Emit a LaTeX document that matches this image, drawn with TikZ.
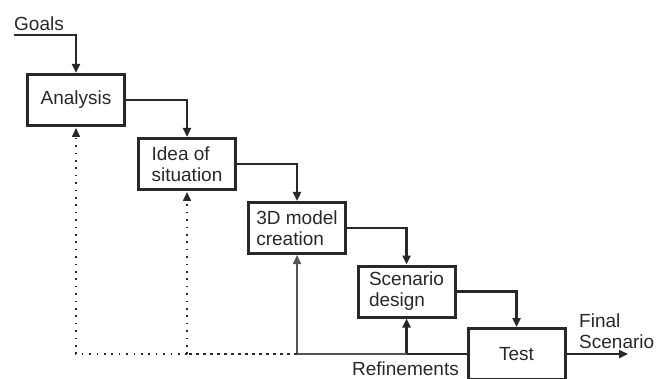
\documentclass[tikz,border=0pt]{standalone}
\usepackage{fontspec}
\setmainfont{Liberation Sans}
\usetikzlibrary{positioning}
\usetikzlibrary{calc}
\usetikzlibrary{arrows.meta}

\definecolor{inkgray}{RGB}{40,40,40}
\definecolor{thingray}{RGB}{85,85,85}

\tikzset{
  stage/.style={draw=inkgray,line width=3pt,minimum width=97pt,minimum height=51pt,
    align=left,inner sep=0pt,font=\fontsize{19}{21}\selectfont,text=inkgray},
  flow/.style={draw=inkgray,line width=2.6pt,-{Triangle[length=9pt,width=8pt]}},
  refine/.style={draw=thingray,line width=1.6pt,-{Triangle[length=9pt,width=8pt]}},
  loopback/.style={draw=inkgray,line width=1.6pt,dash pattern=on 1.6pt off 5.8pt,
    -{Triangle[length=9pt,width=8pt,sep=1pt]}},
  lbl/.style={font=\fontsize{19}{21}\selectfont,text=inkgray,inner sep=0pt,align=left}
}

\begin{document}
\begin{tikzpicture}[x=1pt,y=-1pt]
            \useasboundingbox (0,0) rectangle (668,379);
            \node[stage] (ana) at (76,100) {Analysis};
            \node[stage] (idea) at (187,164) {Idea of\\situation};
            \node[stage] (model) at (297,228) {3D model\\creation};
            \node[stage] (scen) at (406.5,291.5) {Scenario\\design};
            \node[stage] (test) at (516.5,354) {Test};
            \node[lbl,anchor=west] (goals) at (14,24) {Goals};
            \node[lbl,anchor=west] (final) at (579,331) {Final\\Scenario};
            \node[lbl,anchor=east] (refs) at (459,369) {Refinements};
            \coordinate (gstart) at (14,35);
            \coordinate (fend) at (628,354);
            \coordinate (rjoin) at (297,354);
            \draw[flow] (gstart) -| (ana.north);
            \draw[flow] (ana.east) -| (idea.north);
            \draw[flow] (idea.east) -| (model.north);
            \draw[flow] (model.east) -| (scen.north);
            \draw[flow] (scen.east) -| (test.north);
            \draw[flow] (test.east) -- (fend);
            \draw[flow] (test.west) -| (scen.south);
            \draw[refine] (scen.south |- test.west) -- (rjoin) -- (model.south);
            % loops back to the first stages
            \draw[inkgray,line width=1.6pt,dash pattern=on 3pt off 4pt] (rjoin) -- (idea.south |- rjoin);
            \draw[loopback] (idea.south |- rjoin) -- (ana.south |- rjoin) -- (ana.south);
            \draw[loopback] (idea.south |- rjoin) -- (idea.south);
        \end{tikzpicture}
\end{document}
